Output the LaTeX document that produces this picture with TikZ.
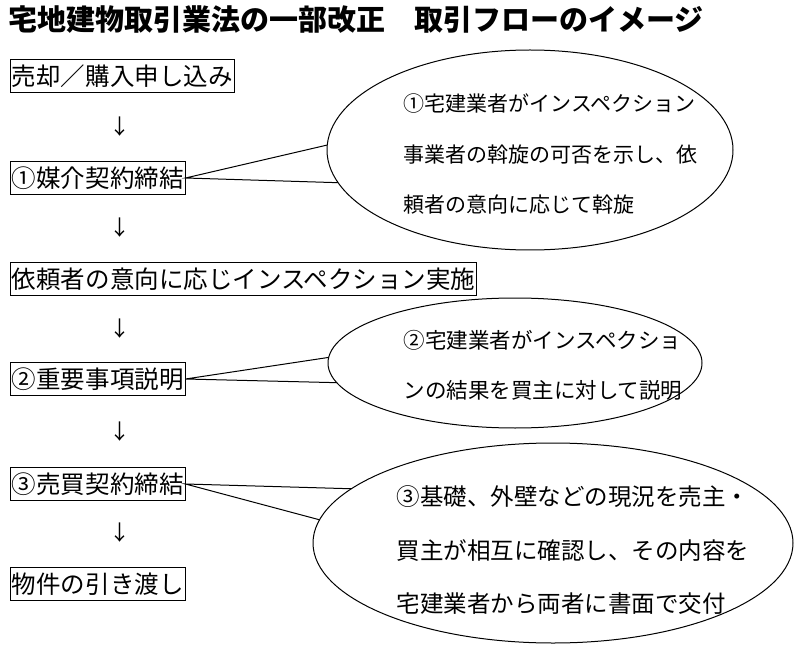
\documentclass[tikz,border=0pt]{standalone}
\usepackage{fontspec}
\setmainfont{Noto Sans CJK JP}
\begin{document}
\begin{tikzpicture}[x=1pt,y=-1pt,
  box/.style={draw,line width=1pt,anchor=west,inner xsep=1.5pt,minimum height=33pt,font=\fontsize{24.5}{24.5}\selectfont},
  arr/.style={font=\fontsize{21}{21}\selectfont},
  ctext/.style={anchor=west,font=\fontsize{#1}{#1}\selectfont},
  bub/.style={draw,line width=1pt,fill=white}]
\useasboundingbox (0,0) rectangle (800,652);
\node[anchor=west,font=\bfseries\fontsize{29}{29}\selectfont,inner sep=0pt] (title) at (8,20) {宅地建物取引業法の一部改正　取引フローのイメージ};
\node[box] (b0) at (10,76) {売却／購入申し込み};
\node[arr] (a0) at (120,127) {↓};
\node[box] (b1) at (10,178) {①媒介契約締結};
\node[arr] (a1) at (120,228) {↓};
\node[box] (b2) at (10,279) {依頼者の意向に応じインスペクション実施};
\node[arr] (a2) at (120,329) {↓};
\node[box] (b3) at (10,379) {②重要事項説明};
\node[arr] (a3) at (120,432) {↓};
\node[box] (b4) at (10,484) {③売買契約締結};
\node[arr] (a4) at (120,533) {↓};
\node[box] (b5) at (10,584) {物件の引き渡し};
% callout 1
\draw[bub] (b1.east) -- (336,143) -- (348,183) -- cycle;
\draw[bub] (530,150) ellipse (203 and 100);
\node[ctext=21] (c1a) at (400,104) {①宅建業者がインスペクション};
\node[ctext=21] (c1b) at (400,155) {事業者の斡旋の可否を示し、依};
\node[ctext=21] (c1c) at (400,205) {頼者の意向に応じて斡旋};
% callout 2
\draw[bub] (b3.east) -- (338,356) -- (350,383) -- cycle;
\draw[bub] (515,363) ellipse (187 and 65);
\node[ctext=21.5] (c2a) at (400,340) {②宅建業者がインスペクショ};
\node[ctext=21.5] (c2b) at (400,390) {ンの結果を買主に対して説明};
% callout 3
\draw[bub] (b4.east) -- (360,489) -- (324,521) -- cycle;
\draw[bub] (553,543) ellipse (240 and 100);
\node[ctext=23.5] (c3a) at (393,497) {③基礎、外壁などの現況を売主・};
\node[ctext=23.5] (c3b) at (393,551) {買主が相互に確認し、その内容を};
\node[ctext=23.5] (c3c) at (393,604) {宅建業者から両者に書面で交付};
\end{tikzpicture}
\end{document}
